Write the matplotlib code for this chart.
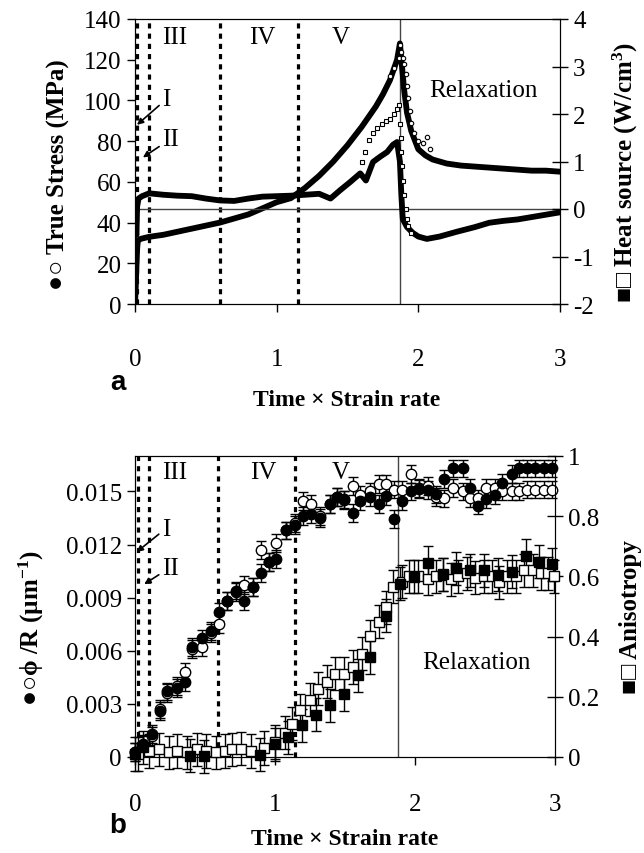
import matplotlib
matplotlib.use("Agg")
import matplotlib.pyplot as plt
from matplotlib.ticker import FixedLocator, FixedFormatter

plt.rcParams['font.family'] = ['Liberation Serif', 'DejaVu Serif', 'DejaVu Sans']
plt.rcParams['mathtext.fontset'] = 'custom'
plt.rcParams['mathtext.rm'] = 'Liberation Serif'
plt.rcParams['mathtext.bf'] = 'Liberation Serif:bold'
plt.rcParams['mathtext.it'] = 'Liberation Serif:italic'
plt.rcParams['axes.unicode_minus'] = False

# ---------------- data: panel a ----------------
stress_t = [0, 0.005, 0.01, 0.015, 0.02, 0.04, 0.1, 0.2, 0.3, 0.4, 0.5, 0.6, 0.7, 0.8, 0.9,
            1.0, 1.1, 1.2, 1.3, 1.4, 1.5, 1.6, 1.7, 1.75, 1.8, 1.85, 1.87, 1.9, 1.92, 1.95,
            2.0, 2.05, 2.1, 2.2, 2.3, 2.4, 2.5, 2.6, 2.7, 2.8, 2.9, 3.0]
stress = [0, 8, 18, 27, 31, 32, 33, 34, 35.5, 37, 38.5, 40, 42, 44, 47,
          50, 52, 57, 63, 70, 78, 87, 97, 103, 110, 120, 128, 105, 94, 85,
          76, 73, 71, 69, 68, 67.5, 67, 66.5, 66, 65.5, 65.5, 65]

stress_open_t = [1.80, 1.83, 1.86, 1.87, 1.88, 1.89, 1.90, 1.91, 1.92, 1.93, 1.94, 1.95,
                 1.97, 2.00, 2.03, 2.06, 2.08]
stress_open = [112, 116, 121, 127, 124, 121, 118, 113, 107, 101, 95, 89,
               84, 80, 79, 82, 76]

heat_t = [0, 0.005, 0.01, 0.015, 0.025, 0.05, 0.1, 0.2, 0.3, 0.4, 0.5, 0.6, 0.7, 0.8, 0.9,
          1.0, 1.1, 1.2, 1.3, 1.38, 1.45, 1.52, 1.59, 1.63, 1.68, 1.73, 1.78, 1.82, 1.85,
          1.87, 1.88, 1.89, 1.92, 1.96, 2.0, 2.06, 2.15, 2.27, 2.4, 2.5, 2.6, 2.7, 2.8, 2.9, 3.0]
heat = [0.0, -0.45, -0.55, 0.05, 0.22, 0.27, 0.33, 0.30, 0.28, 0.27, 0.22, 0.18, 0.17, 0.22, 0.26,
        0.27, 0.28, 0.30, 0.32, 0.22, 0.40, 0.57, 0.75, 0.60, 0.99, 1.10, 1.20, 1.35, 1.41,
        1.0, 0.3, -0.21, -0.38, -0.50, -0.58, -0.63, -0.58, -0.48, -0.38, -0.29, -0.25, -0.22, -0.17, -0.12, -0.07]

heat_open_t = [1.60, 1.62, 1.65, 1.68, 1.71, 1.74, 1.77, 1.80, 1.83, 1.85, 1.86, 1.87, 1.875,
               1.88, 1.885, 1.89, 1.90, 1.91, 1.92, 1.93, 1.95]
heat_open = [1.0, 1.2, 1.45, 1.6, 1.7, 1.8, 1.85, 1.9, 2.0, 2.1, 2.2, 1.8, 1.5,
             1.2, 0.9, 0.6, 0.3, 0.0, -0.2, -0.35, -0.5]

# ---------------- data: panel b ----------------
phi_t = [0.0, 0.06, 0.12, 0.18, 0.23, 0.30, 0.36, 0.41, 0.48, 0.54,
         0.60, 0.66, 0.72, 0.78, 0.84, 0.90, 0.96, 1.01, 1.08, 1.14,
         1.20, 1.26, 1.32, 1.39, 1.44, 1.49, 1.56, 1.61, 1.68, 1.74,
         1.79, 1.85, 1.91, 1.97, 2.03, 2.09, 2.15, 2.21, 2.27, 2.34,
         2.39, 2.45, 2.51, 2.57, 2.62, 2.69, 2.74, 2.80, 2.86, 2.92, 2.98]
phi_filled = [0.0003, 0.00073, 0.0013, 0.0026, 0.0037, 0.0039, 0.00425, 0.0062, 0.0067, 0.0071,
              0.0082, 0.0088, 0.0094, 0.0088, 0.0096, 0.0104, 0.0110, 0.0112, 0.0128, 0.0131,
              0.0136, 0.0137, 0.0135, 0.0143, 0.0147, 0.01455, 0.0138, 0.01446, 0.01468, 0.0143,
              0.01473, 0.01346, 0.01446, 0.0150, 0.01515, 0.01506, 0.01483, 0.0157, 0.0163, 0.0163,
              0.0152, 0.0142, 0.01455, 0.0148, 0.0155, 0.0160, 0.0163, 0.0163, 0.0163, 0.0163, 0.0163]
phi_open = [0.0003, 0.0007, 0.0012, 0.0027, 0.0036, 0.0040, 0.0048, 0.0061, 0.0062, 0.0070,
            0.0075, 0.0088, 0.0093, 0.0097, 0.0096, 0.0117, 0.0110, 0.0121, 0.0128, 0.0132,
            0.01445, 0.0143, 0.0136, 0.0143, 0.0147, 0.0145, 0.0153, 0.0148, 0.0150, 0.0154,
            0.0154, 0.0151, 0.0151, 0.0160, 0.0152, 0.0153, 0.0147, 0.0146, 0.0152, 0.0150,
            0.0146, 0.0146, 0.0152, 0.0152, 0.0150, 0.0150, 0.0150, 0.0151, 0.0151, 0.0151, 0.0151]
phi_err = 0.0005

aniso_open_t = [0.02, 0.10, 0.17, 0.24, 0.30, 0.37, 0.44, 0.51, 0.58, 0.64,
                0.69, 0.76, 0.83, 0.92, 1.00, 1.07, 1.12, 1.18, 1.25, 1.31,
                1.37, 1.43, 1.49, 1.56, 1.62, 1.68, 1.74, 1.79, 1.845, 1.91,
                1.96, 2.02, 2.09, 2.15, 2.20, 2.26, 2.31, 2.37, 2.43, 2.49,
                2.55, 2.60, 2.66, 2.72, 2.78, 2.84, 2.90, 2.95, 2.99]
aniso_open = [0.01, 0.02, 0.025, 0.015, 0.02, 0.015, 0.025, 0.02, 0.015, 0.02,
              0.025, 0.027, 0.02, 0.03, 0.05, 0.08, 0.11, 0.155, 0.19, 0.227,
              0.25, 0.277, 0.277, 0.299, 0.343, 0.401, 0.449, 0.497, 0.566, 0.582,
              0.60, 0.60, 0.593, 0.60, 0.605, 0.59, 0.60, 0.61, 0.595, 0.60,
              0.60, 0.58, 0.60, 0.60, 0.62, 0.62, 0.61, 0.61, 0.60]
aniso_filled_t = [0.0, 0.06, 0.39, 0.49, 0.89, 1.0, 1.095, 1.19, 1.29, 1.39, 1.49, 1.59, 1.68,
                  1.79, 1.89, 1.99, 2.09, 2.2, 2.29, 2.39, 2.49, 2.595, 2.69, 2.79, 2.886, 2.98]
aniso_filled = [0.01, 0.032, 0.004, 0.002, 0.008, 0.043, 0.066, 0.105, 0.141, 0.172, 0.208, 0.271, 0.332,
                0.469, 0.575, 0.599, 0.646, 0.607, 0.627, 0.621, 0.621, 0.606, 0.616, 0.668, 0.649, 0.64]
aniso_err = 0.055

stage_lines = [0.016, 0.1, 0.6, 1.15]
relax_start = 1.87

# ---------------- figure ----------------
W, H = 644, 854
fig = plt.figure(figsize=(W / 100, H / 100), dpi=100)

def fr(l, t, r, b):
    return [l / W, 1 - b / H, (r - l) / W, (b - t) / H]

TICK = 18
dotted = dict(color='k', lw=2.3, ls=(0, (1.6, 1.6)))

# ===== panel a =====
ax1 = fig.add_axes(fr(135, 20, 560, 305))
ax1r = ax1.twinx()
ax1.set_xlim(0, 3)
ax1.set_ylim(0, 140)
ax1r.set_ylim(-2, 4)

for x in stage_lines:
    ax1.axvline(x, **dotted, zorder=1)
ax1.axvline(relax_start, color='#444444', lw=1.0, zorder=1)
ax1r.axhline(0, color='#444444', lw=1.0, zorder=1)

ax1.plot(stress_t, stress, color='k', lw=4.2, solid_joinstyle='round', zorder=3)
ax1.plot(stress_open_t, stress_open, 'o', mfc='white', mec='k', ms=3.2, mew=0.8, zorder=4)
ax1r.plot(heat_t, heat, color='k', lw=4.2, solid_joinstyle='round', zorder=3)
ax1r.plot(heat_open_t, heat_open, 's', mfc='white', mec='k', ms=3.0, mew=0.8, zorder=4)

ax1.set_yticks(range(0, 141, 20))
ax1r.set_yticks(range(-2, 5, 1))
ax1.set_xticks([0, 1, 2, 3])
ax1.tick_params(axis='both', direction='out', length=6, width=1, labelsize=TICK)
ax1.tick_params(axis='x', pad=26)
ax1r.tick_params(axis='y', direction='inout', length=11, width=1, labelsize=TICK, pad=4)

ax1.text(0.28, 131, 'III', fontsize=18, ha='center', va='center')
ax1.text(0.90, 131, 'IV', fontsize=18, ha='center', va='center')
ax1.text(1.45, 131, 'V', fontsize=18, ha='center', va='center')
ax1.text(2.46, 105, 'Relaxation', fontsize=18, ha='center', va='center')
ax1.annotate('I', xy=(0.014, 88), xytext=(0.19, 100.5), fontsize=18, va='center', ha='left',
             arrowprops=dict(arrowstyle='-|>', color='k', lw=1.2, mutation_scale=9, shrinkA=0, shrinkB=0))
ax1.annotate('II', xy=(0.056, 72), xytext=(0.19, 81), fontsize=18, va='center', ha='left',
             arrowprops=dict(arrowstyle='-|>', color='k', lw=1.2, mutation_scale=9, shrinkA=0, shrinkB=0))

fig.text(58 / W, 1 - 175 / H, '●○ True Stress (MPa)', rotation=90, ha='center', va='center',
         fontsize=18, fontweight='bold', family=['Liberation Serif', 'DejaVu Sans'])
fig.text(625 / W, 1 - 173 / H, '■□ Heat source (W/cm$^{\\mathbf{3}}$)', rotation=90, ha='center',
         va='center', fontsize=18, fontweight='bold', family=['Liberation Serif', 'DejaVu Sans'])
fig.text(347 / W, 1 - 400 / H, 'Time × Strain rate', ha='center', va='center', fontsize=17,
         fontweight='bold')
fig.text(118 / W, 1 - 383 / H, 'a', ha='center', va='center', fontsize=20, fontweight='bold',
         family='Liberation Sans')

# ===== panel b =====
ax2 = fig.add_axes(fr(135, 457, 555, 758))
ax2r = ax2.twinx()
ax2.set_xlim(0, 3)
ax2.set_ylim(0, 0.017)
ax2r.set_ylim(0, 1.0)

for x in [0.019, 0.1, 0.595, 1.143]:
    ax2.axvline(x, **dotted, zorder=1)
ax2.axvline(1.876, color='#444444', lw=1.0, zorder=1)

eb = dict(ecolor='k', elinewidth=1.0, capsize=3.5, capthick=1.0, clip_on=False, zorder=3)
ax2.errorbar(phi_t, phi_open, yerr=phi_err, fmt='o', mfc='white', mec='k', ms=7.5, mew=1.0, **eb)
ax2.errorbar(phi_t, phi_filled, yerr=phi_err, fmt='o', mfc='k', mec='k', ms=7.5, mew=1.0, **eb)
ax2r.errorbar(aniso_open_t, aniso_open, yerr=aniso_err, fmt='s', mfc='white', mec='k', ms=7.5, mew=1.0, **eb)
ax2r.errorbar(aniso_filled_t, aniso_filled, yerr=aniso_err, fmt='s', mfc='k', mec='k', ms=7.5, mew=1.0, **eb)

lticks = [0, 0.003, 0.006, 0.009, 0.012, 0.015]
ax2.yaxis.set_major_locator(FixedLocator(lticks))
ax2.yaxis.set_major_formatter(FixedFormatter(['0', '0.003', '0.006', '0.009', '0.012', '0.015']))
rticks = [0, 0.2, 0.4, 0.6, 0.8, 1.0]
ax2r.yaxis.set_major_locator(FixedLocator(rticks))
ax2r.yaxis.set_major_formatter(FixedFormatter(['0', '0.2', '0.4', '0.6', '0.8', '1']))
ax2.set_xticks([0, 1, 2, 3])
ax2.tick_params(axis='both', direction='out', length=6, width=1, labelsize=TICK)
ax2.tick_params(axis='x', pad=20)
ax2r.tick_params(axis='y', direction='inout', length=11, width=1, labelsize=TICK, pad=4)

ax2.text(0.286, 0.0161, 'III', fontsize=18, ha='center', va='center')
ax2.text(0.915, 0.0161, 'IV', fontsize=18, ha='center', va='center')
ax2.text(1.47, 0.0161, 'V', fontsize=18, ha='center', va='center')
ax2r.text(2.44, 0.316, 'Relaxation', fontsize=18, ha='center', va='center')
ax2.annotate('I', xy=(0.012, 0.01158), xytext=(0.19, 0.0129), fontsize=18, va='center', ha='left',
             arrowprops=dict(arrowstyle='-|>', color='k', lw=1.2, mutation_scale=9, shrinkA=0, shrinkB=0))
ax2.annotate('II', xy=(0.066, 0.00976), xytext=(0.19, 0.0107), fontsize=18, va='center', ha='left',
             arrowprops=dict(arrowstyle='-|>', color='k', lw=1.2, mutation_scale=9, shrinkA=0, shrinkB=0))

fig.text(31 / W, 1 - 628 / H, '●○ϕ /R (µm$^{\\mathbf{-1}}$)', rotation=90, ha='center', va='center',
         fontsize=18, fontweight='bold', family=['Liberation Serif', 'DejaVu Serif', 'DejaVu Sans'])
fig.text(630 / W, 1 - 617 / H, '■□ Anisotropy', rotation=90, ha='center', va='center',
         fontsize=18, fontweight='bold', family=['Liberation Serif', 'DejaVu Sans'])
fig.text(345 / W, 1 - 840 / H, 'Time × Strain rate', ha='center', va='center', fontsize=17,
         fontweight='bold')
fig.text(118 / W, 1 - 826 / H, 'b', ha='center', va='center', fontsize=20, fontweight='bold',
         family='Liberation Sans')

fig.savefig('out.png', dpi=100)
